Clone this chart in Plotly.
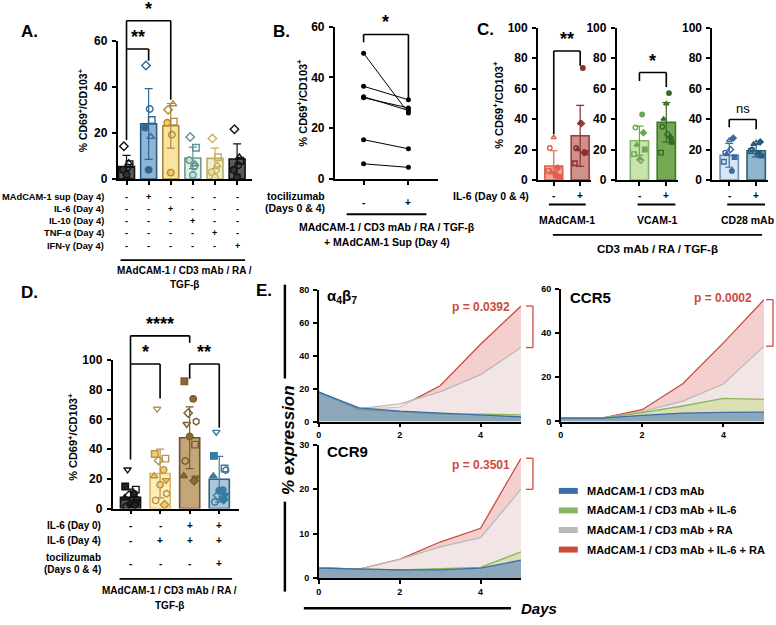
import plotly.graph_objects as go

W, H = 776, 625
FONT = "Liberation Sans, Arial, Helvetica, sans-serif"

# ======================= DATA =======================
# Panel A
A_means = [5.4, 24.0, 23.2, 9.2, 9.0, 8.7]
A_sd = [4.9, 15.4, 9.7, 4.7, 4.5, 6.6]
A_points = [
    [14.3, 5.0, 6.5, 4.0, 7.0, 2.0],
    [49.4, 30.5, 25.7, 22.4, 18.4, 4.0],
    [30.2, 19.3, 25.0, 24.5, 32.6, 2.8],
    [18.3, 5.4, 13.6, 8.2, 6.5, 1.8],
    [17.7, 4.0, 9.5, 3.0, 6.0, 0.8],
    [21.7, 6.0, 8.0, 4.0, 9.5, 0.8],
]
A_rows = ["MAdCAM-1 sup (Day 4)", "IL-6 (Day 4)", "IL-10 (Day 4)", "TNF-α (Day 4)", "IFN-γ (Day 4)"]
A_signs = [
    ["-", "+", "-", "-", "-", "-"],
    ["-", "-", "+", "-", "-", "-"],
    ["-", "-", "-", "+", "-", "-"],
    ["-", "-", "-", "-", "+", "-"],
    ["-", "-", "-", "-", "-", "+"],
]
A_caption = ["MAdCAM-1 / CD3 mAb / RA /", "TGF-β"]

# Panel B (paired donors)
B_minus = [49.5, 36.5, 32.0, 32.4, 15.5, 6.0]
B_plus = [26.0, 31.2, 28.0, 27.0, 11.9, 4.6]
B_rows = ["tocilizumab", "(Days 0 & 4)"]
B_signs = ["-", "+"]
B_caption = ["MAdCAM-1 / CD3 mAb / RA / TGF-β", "+ MAdCAM-1 Sup (Day 4)"]

# Panel C
C_groups = ["MAdCAM-1", "VCAM-1", "CD28 mAb"]
C_means = [[9.2, 29.0], [25.8, 37.8], [16.2, 19.2]]
C_sd = [[10.0, 20.0], [9.5, 13.0], [7.8, 4.0]]
C_points = [
    [[28.0, 21.0, 8.0, 5.0, 3.0, 2.0, 6.0, 4.0],
     [37.5, 21.0, 18.0, 20.0, 73.5, 18.0, 11.0, 37.0]],
    [[14.0, 34.5, 31.0, 23.0, 43.0, 20.0, 17.0, 13.0],
     [50.0, 35.0, 28.0, 40.0, 57.0, 25.0, 18.0, 30.0]],
    [[26.0, 18.0, 27.5, 17.0, 6.0, 15.0, 12.0, 20.0],
     [24.5, 20.0, 25.0, 23.5, 18.0, 16.0, 19.0, 17.0]],
]
C_signs = ["-", "+"]
C_rowlabel = "IL-6 (Day 0 & 4)"
C_caption = "CD3 mAb / RA / TGF-β"

# Panel D
D_means = [7.6, 23.6, 47.6, 19.7]
D_sd = [5.5, 16.4, 20.8, 15.4]
D_points = [
    [26.2, 14.8, 12.7, 9.0, 10.0, 7.0, 5.0, 3.0, 1.2, 2.5, 6.0],
    [67.0, 36.7, 33.6, 32.3, 26.0, 21.8, 19.0, 16.0, 5.5, 2.6, 10.0],
    [56.8, 85.6, 43.0, 64.2, 73.8, 22.0, 20.7, 48.5, 32.0, 18.6, 58.5],
    [51.5, 35.4, 26.9, 8.7, 12.4, 21.8, 9.0, 12.0, 4.4, 6.0, 25.8],
]
D_rows = ["IL-6 (Day 0)", "IL-6 (Day 4)", "tocilizumab", "(Days 0 & 4)"]
D_signs = [
    ["-", "-", "+", "+"],
    ["-", "+", "+", "+"],
    ["-", "-", "-", "+"],
]
D_caption = ["MAdCAM-1 / CD3 mAb / RA /", "TGF-β"]

# Panel E (time courses, days 0-5)
E_days = [0, 1, 2, 3, 4, 5]
E_series = ["MAdCAM-1 / CD3 mAb", "MAdCAM-1 / CD3 mAb + IL-6",
            "MAdCAM-1 / CD3 mAb + RA", "MAdCAM-1 / CD3 mAb + IL-6 + RA"]
E1 = {"blue": [17.8, 8.3, 6.3, 5.0, 4.0, 2.8],
      "green": [17.8, 7.2, 6.0, 4.5, 4.5, 4.0],
      "gray": [17.8, 7.8, 10.7, 18.0, 28.4, 44.8],
      "red": [17.8, 7.5, 8.7, 21.7, 46.8, 70.0]}
E2 = {"blue": [1.5, 1.5, 2.8, 3.8, 4.1, 4.2],
      "green": [1.5, 1.5, 4.0, 7.0, 10.4, 10.0],
      "gray": [1.5, 1.5, 4.5, 9.2, 16.9, 34.0],
      "red": [1.5, 1.5, 5.3, 17.0, 35.5, 55.0]}
E3 = {"blue": [2.2, 2.0, 1.8, 1.8, 2.2, 4.0],
      "green": [2.2, 2.0, 1.8, 2.1, 2.4, 5.9],
      "gray": [2.3, 2.0, 4.2, 7.0, 9.1, 20.0],
      "red": [2.3, 2.0, 4.2, 8.1, 11.2, 27.0]}
E_pvals = ["p = 0.0392", "p = 0.0002", "p = 0.3501"]
E_titles = ["α<sub>4</sub>β<sub>7</sub>", "CCR5", "CCR9"]

# ======================= STYLE =======================
A_fill = ["#5a5a5a", "#8fb4d4", "#f8e3a1", "#e4efe8", "#f2eecf", "#5a5a5a"]
A_line = ["#111111", "#2b5c86", "#a8883a", "#6e9a98", "#b9ad69", "#111111"]
A_mk = ["#111111", "#2f6896", "#b08b3a", "#5f9393", "#c4b160", "#111111"]
A_mkfill = ["#333333", "#2f6896", "#f5cc55", "#c9e4d1", "#e9e0a0", "#333333"]
A_sym = ["diamond-open", "circle-open", "square-open", "circle", "triangle-up-open", "circle"]
A_off = [-0.12, 0.05, 0.14, -0.16, 0.1, 0.0]

C_fill = [["#f4a395", "#cf918c"], ["#c9e2b0", "#74a852"], ["#d9e5f1", "#8fb6cf"]]
C_line = [["#e0604e", "#9c3c3a"], ["#82b866", "#3f7a2a"], ["#6a8fba", "#2b5c7a"]]
C_mk = [["#e0604e", "#8b2f2f"], ["#6aa84f", "#356b24"], ["#3c6a9e", "#2b5c7a"]]
C_sym = ["triangle-up-open", "circle-open", "diamond", "triangle-up", "circle", "square", "square-open", "diamond-open"]
C_off = [0.0, -0.15, 0.15, -0.1, 0.1, 0.2, -0.2, 0.05]

D_fill = ["#4a4a4a", "#fcedbb", "#c4a678", "#a9c7d9"]
D_line = ["#111111", "#d9b866", "#6b5130", "#2c6581"]
D_mk = ["#111111", "#b7924a", "#7b5c2e", "#3a7c9a"]
D_mkfill = ["#222222", "#f6cf5e", "#8a6a35", "#2f7eac"]
D_sym = ["triangle-down-open", "square", "square-open", "diamond-open", "circle", "triangle-up",
         "triangle-down", "circle", "circle-open", "diamond", "hexagon-open"]
D_off = [-0.1, -0.18, 0.18, -0.05, 0.12, -0.2, 0.2, 0.0, -0.15, 0.15, 0.22]

E_line = {"red": "#cc4a3c", "gray": "#b9b9b9", "green": "#8ab560", "blue": "#3a6ea8"}
E_fillc = {"red": "rgba(214,100,90,0.30)", "gray": "rgba(240,240,240,0.70)",
           "green": "rgba(190,215,120,0.45)", "blue": "rgba(90,130,190,0.60)"}

# subplot boxes (pixels) and ranges
SP = {
    "A": dict(n="", xd=(115, 250), yd=(35, 176), xr=(-0.405, 5.675), yr=(0, 60)),
    "B": dict(n="2", xd=(333, 437), yd=(20, 176), xr=(-0.644, 1.667), yr=(0, 60)),
    "C1": dict(n="3", xd=(537, 590), yd=(21, 177), xr=(-0.6, 1.4), yr=(0, 100)),
    "C2": dict(n="4", xd=(616, 678), yd=(21, 177), xr=(-0.85, 1.45), yr=(0, 100)),
    "C3": dict(n="5", xd=(712, 768), yd=(21, 177), xr=(-0.63, 1.44), yr=(0, 100)),
    "D": dict(n="6", xd=(110, 237), yd=(361, 513), xr=(-0.606, 3.67), yr=(0, 100)),
    "E1": dict(n="7", xd=(317, 520), yd=(289, 424), xr=(0, 5), yr=(0, 80)),
    "E2": dict(n="8", xd=(560, 764), yd=(288, 424), xr=(0, 5), yr=(0, 60)),
    "E3": dict(n="9", xd=(317, 520), yd=(448, 584), xr=(0, 5), yr=(0, 30)),
}

LW = 1.6
fig = go.Figure()
layout = {}
shapes = []
annos = []


def PX(p):
    return p / W


def PY(p):
    return 1 - p / H


def add_axes(key, xt, yt, ysize, xlabels=False, xsize=9):
    s = SP[key]
    n = s["n"]
    common = dict(showline=True, linecolor="black", linewidth=LW, ticks="outside",
                  ticklen=4, tickwidth=LW, tickcolor="black", showgrid=False,
                  zeroline=False, fixedrange=True)
    layout["xaxis" + n] = dict(domain=[PX(s["xd"][0]), PX(s["xd"][1])], range=list(s["xr"]),
                               anchor="y" + n, tickvals=xt, showticklabels=xlabels,
                               tickfont=dict(family=FONT, size=xsize, color="black", weight="bold"),
                               **common)
    layout["yaxis" + n] = dict(domain=[PY(s["yd"][1]), PY(s["yd"][0])], range=list(s["yr"]),
                               anchor="x" + n, tickvals=yt, ticklabelstandoff=2,
                               tickfont=dict(family=FONT, size=ysize, color="black", weight="bold"),
                               **common)


def T(x, y, text, size=10, xanchor="center", bold=True, color="black", angle=0,
      xref="paper", italic=False):
    t = text
    if bold:
        t = "<b>" + t + "</b>"
    if italic:
        t = "<i>" + t + "</i>"
    annos.append(dict(x=x if xref != "paper" else PX(x), y=PY(y), xref=xref, yref="paper",
                      text=t, showarrow=False, xanchor=xanchor, yanchor="middle",
                      textangle=angle, font=dict(family=FONT, size=size, color=color)))


def hline(x0, x1, y, w=1.8, color="black"):
    shapes.append(dict(type="line", xref="paper", yref="paper", x0=PX(x0), x1=PX(x1),
                       y0=PY(y), y1=PY(y), line=dict(color=color, width=w)))


def vline(x, y0, y1, w=1.8, color="black"):
    shapes.append(dict(type="line", xref="paper", yref="paper", x0=PX(x), x1=PX(x),
                       y0=PY(y0), y1=PY(y1), line=dict(color=color, width=w)))


def bracket(key, x1, x2, yh, y1, y2, stars, ssize=18, bold=True, gap=0.0):
    s = SP[key]
    n = s["n"]
    ymax = s["yr"][1]
    xr, yr = "x" + n, "y" + n + " domain"
    for xa, ya, xb, yb in [(x1, y1, x1, yh), (x1, yh, x2, yh), (x2, yh, x2, y2)]:
        shapes.append(dict(type="line", xref=xr, yref=yr, x0=xa, x1=xb, y0=ya / ymax,
                           y1=yb / ymax, line=dict(color="black", width=LW)))
    t = "<b>" + stars + "</b>" if bold else stars
    annos.append(dict(x=(x1 + x2) / 2, y=yh / ymax + gap, xref=xr, yref=yr, text=t,
                      showarrow=False, xanchor="center", yanchor="bottom",
                      font=dict(family=FONT, size=ssize, color="black")))


def bars(key, means, sds, fills, lines, mks, width):
    n = SP[key]["n"]
    for i, (m, sd) in enumerate(zip(means, sds)):
        fig.add_trace(go.Bar(x=[i], y=[m], width=width, xaxis="x" + n, yaxis="y" + n,
                             marker=dict(color=fills[i], line=dict(color=lines[i], width=LW)),
                             error_y=dict(type="data", array=[sd], color=mks[i],
                                          thickness=1.2, width=4),
                             showlegend=False, hoverinfo="skip"))


def dots(key, i, vals, syms, offs, color, fillc, size):
    n = SP[key]["n"]
    cols = [fillc if not s.endswith("open") else color for s in syms[:len(vals)]]
    fig.add_trace(go.Scatter(x=[i + offs[j] for j in range(len(vals))], y=vals, mode="markers",
                             xaxis="x" + n, yaxis="y" + n, showlegend=False, hoverinfo="skip",
                             marker=dict(symbol=syms[:len(vals)], size=size, color=cols,
                                         line=dict(color=color, width=1.4))))


# ======================= PANEL A =======================
add_axes("A", list(range(6)), [0, 20, 40, 60], 12)
bars("A", A_means, A_sd, A_fill, A_line, A_mk, 0.72)
for i, pts in enumerate(A_points):
    dots("A", i, pts, A_sym, A_off, A_mk[i], A_mkfill[i], 6.5)
T(27, 25, "A.", 17)
T(80, 106, "% CD69<sup>+</sup>/CD103<sup>+</sup>", 10.5, angle=-90)
bracket("A", 0, 1, 56.6, 17.0, 51.5, "**")
bracket("A", 0, 2, 68.9, 56.6, 34.5, "*")
A_rowy = [194, 206.5, 219, 231.5, 244]
for r, lab in enumerate(A_rows):
    T(103, A_rowy[r], lab, 9.3, xanchor="right")
    for i, sg in enumerate(A_signs[r]):
        T(i, A_rowy[r], sg, 9, xref="x")
hline(118, 243, 259)
T(182, 270, A_caption[0], 10)
T(182, 284, A_caption[1], 10)

# ======================= PANEL B =======================
add_axes("B", [0, 1], [0, 20, 40, 60], 12)
bx, by = [], []
for a, b in zip(B_minus, B_plus):
    bx += [0, 1, None]
    by += [a, b, None]
fig.add_trace(go.Scatter(x=bx, y=by, mode="lines+markers", xaxis="x2", yaxis="y2",
                         line=dict(color="black", width=1), showlegend=False, hoverinfo="skip",
                         marker=dict(color="black", size=5)))
T(280, 25, "B.", 17)
T(300, 98, "% CD69<sup>+</sup>/CD103<sup>+</sup>", 11, angle=-90)
bracket("B", 0, 1, 56.9, 53.8, 31.9, "*")
T(325, 193, B_rows[0], 10.5, xanchor="right")
T(325, 206, B_rows[1], 10.5, xanchor="right")
for i, sg in enumerate(B_signs):
    T(i, 200, sg, 10, xref="x2")
hline(345, 425, 212)
T(385, 225, B_caption[0], 10.5)
T(385, 240, B_caption[1], 10.5)

# ======================= PANEL C =======================
for g, key in enumerate(["C1", "C2", "C3"]):
    add_axes(key, [0, 1], [0, 20, 40, 60, 80, 100], 12)
    bars(key, C_means[g], C_sd[g], C_fill[g], C_line[g], C_mk[g], 0.68)
    for i in range(2):
        dots(key, i, C_points[g][i], C_sym, C_off, C_mk[g][i], C_mk[g][i], 4.5)
    n = SP[key]["n"]
    for i, sg in enumerate(C_signs):
        T(i, 193, sg, 10, xref="x" + n)
T(484, 23, "C.", 17)
T(497, 100, "% CD69<sup>+</sup>/CD103<sup>+</sup>", 11, angle=-90)
bracket("C1", 0, 1, 84.6, 30.0, 75.0, "**")
bracket("C2", 0, 1, 70.5, 65.0, 61.0, "*")
bracket("C3", 0, 1, 39.7, 34.6, 33.3, "ns", 13, bold=False, gap=0.01)
T(530, 193, C_rowlabel, 10.5, xanchor="right")
for (x0, x1, xc), lab in zip([(548, 585, 566), (637, 675, 657), (727, 765, 747)], C_groups):
    hline(x0, x1, 202)
    T(xc, 218, lab, 10.5)
hline(552, 762, 233)
T(657, 248, C_caption, 11.5)

# ======================= PANEL D =======================
add_axes("D", list(range(4)), [0, 20, 40, 60, 80, 100], 12)
bars("D", D_means, D_sd, D_fill, D_line, D_mk, 0.68)
for i, pts in enumerate(D_points):
    dots("D", i, pts, D_sym, D_off, D_mk[i], D_mkfill[i], 6.5)
T(27, 292, "D.", 17)
T(70, 440, "% CD69<sup>+</sup>/CD103<sup>+</sup>", 11, angle=-90)
bracket("D", 0, 2, 116.2, 97.2, 111.6, "****")
bracket("D", 0, 1, 97.2, 32.9, 74.0, "*")
bracket("D", 2, 3, 97.2, 87.4, 54.3, "**")
D_labely = [530, 546, 563, 575]
for lab, y in zip(D_rows, D_labely):
    T(100, y, lab, 10, xanchor="right")
D_signy = [530, 546, 569]
for r, row in enumerate(D_signs):
    for i, sg in enumerate(row):
        T(i, D_signy[r], sg, 10, xref="x6")
hline(117, 230, 585)
T(167, 597, D_caption[0], 10)
T(167, 612, D_caption[1], 10)

# ======================= PANEL E =======================
E_sets = [("E1", E1, [0, 20, 40, 60, 80]), ("E2", E2, [0, 20, 40, 60]), ("E3", E3, [0, 10, 20, 30])]
for key, dat, yt in E_sets:
    add_axes(key, [0, 2, 4], yt, 9, xlabels=True, xsize=9)
    n = SP[key]["n"]
    for c in ["red", "gray", "green", "blue"]:
        fig.add_trace(go.Scatter(x=E_days, y=dat[c], mode="lines", xaxis="x" + n, yaxis="y" + n,
                                 line=dict(color=E_line[c], width=1.3), fill="tozeroy",
                                 fillcolor=E_fillc[c], showlegend=False, hoverinfo="skip"))

T(262, 290, "E.", 17)
annos.append(dict(x=PX(323), y=PY(296), xref="paper", yref="paper", xanchor="left", yanchor="middle",
                  text="<b>" + E_titles[0] + "</b>", showarrow=False,
                  font=dict(family=FONT, size=15, color="black")))
T(567, 297, E_titles[1], 15, xanchor="left")
T(323, 455, E_titles[2], 15, xanchor="left")
T(480, 307, E_pvals[0], 12, color="#cc4a3c")
T(723, 298, E_pvals[1], 12, color="#cc4a3c")
T(480, 468, E_pvals[2], 12, color="#cc4a3c")


def red_bracket(key, xpx, hi, lo):
    s = SP[key]
    yr = "y" + s["n"] + " domain"
    ymax = s["yr"][1]
    col = "#cc4a3c"
    for xa, ya, xb, yb in [(xpx - 7, hi, xpx, hi), (xpx, hi, xpx, lo), (xpx, lo, xpx - 7, lo)]:
        shapes.append(dict(type="line", xref="paper", yref=yr, x0=PX(xa), x1=PX(xb),
                           y0=ya / ymax, y1=yb / ymax, line=dict(color=col, width=1.3)))


red_bracket("E1", 532, E1["red"][-1], E1["gray"][-1])
red_bracket("E2", 773, E2["red"][-1], E2["gray"][-1])
red_bracket("E3", 532, E3["red"][-1], E3["gray"][-1])

T(286, 443, "% expression", 17, angle=-90, italic=True)
vline(283, 284, 380, w=2.5)
vline(283, 506, 598, w=2.5)
T(538, 615, "Days", 15, italic=True)
hline(302, 510, 615, w=2.5)

# legend
for c, lab, y in zip(["blue", "green", "gray", "red"], E_series, [495, 515, 535, 555]):
    hline(558, 577, y, w=6, color=E_line[c])
    T(584, y, lab, 11, xanchor="left")

layout.update(dict(width=W, height=H, margin=dict(l=0, r=0, t=0, b=0), autosize=False,
                   paper_bgcolor="white", plot_bgcolor="white", showlegend=False,
                   barmode="overlay", shapes=shapes, annotations=annos,
                   font=dict(family=FONT, color="black")))
fig.update_layout(**layout)
fig.write_html("out.html")
